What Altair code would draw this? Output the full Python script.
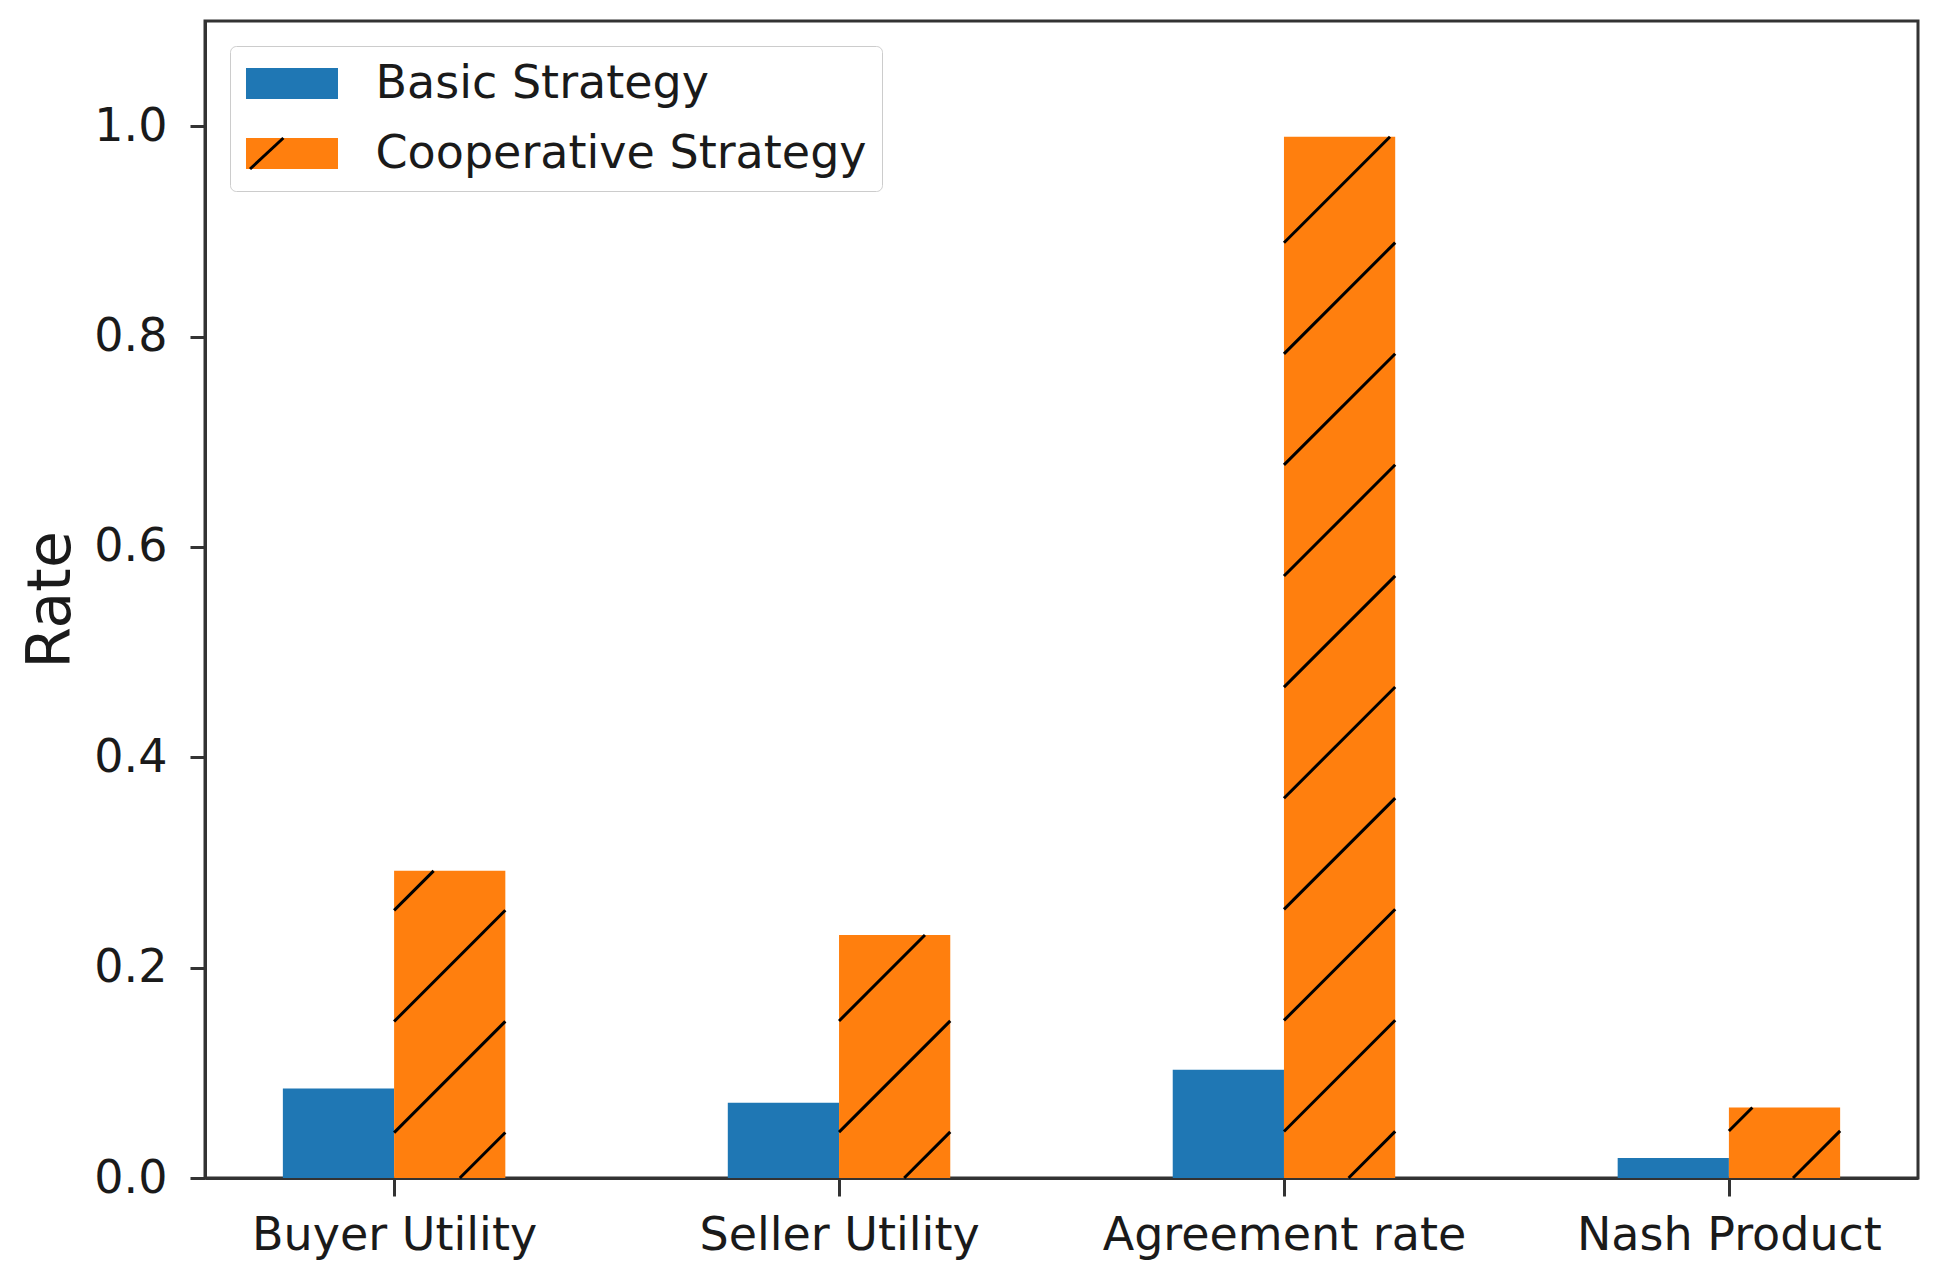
import json
import altair as alt
import numpy as np
import pandas as pd

# ---- data ----
categories = ["Buyer Utility", "Seller Utility", "Agreement rate", "Nash Product"]
basic = [0.085, 0.0715, 0.103, 0.019]
cooperative = [0.292, 0.231, 0.99, 0.067]
series = ["Basic Strategy", "Cooperative Strategy"]
colors = ["#1f77b4", "#ff7f0e"]
y_ticks = [0.0, 0.2, 0.4, 0.6, 0.8, 1.0]
x_ticks = [0, 1, 2, 3]

# ---- layout / style constants ----
BAR_W = 0.25
X_DOMAIN = [-0.425, 3.425]
Y_DOMAIN = [0.0, 1.1]
W, H = 1713, 1157
FONT = "DejaVu Sans"
TXT = "#1a1a1a"
FRAME = "#333333"
HATCH_W = 3

# bar table
rows = []
for i, c in enumerate(categories):
    for s, vals in enumerate([basic, cooperative]):
        rows.append(dict(metric=c, idx=i, sidx=s, strategy=series[s], value=vals[i]))
bars_df = pd.DataFrame(rows)

# hatch segments ("/" pattern, screen anchored) clipped to the cooperative bars
sx = W / (X_DOMAIN[1] - X_DOMAIN[0])
sy = H / (Y_DOMAIN[1] - Y_DOMAIN[0])
P, C0 = 111.1, 78.6


def xpix(xd):
    return (xd - X_DOMAIN[0]) * sx


def ypix(yd):
    return H - (yd - Y_DOMAIN[0]) * sy


def xdat(xp):
    return xp / sx + X_DOMAIN[0]


def ydat(yp):
    return (H - yp) / sy + Y_DOMAIN[0]


segs = []
for i, v in enumerate(cooperative):
    xa, xb = xpix(i), xpix(i + BAR_W)
    ytop, ybot = ypix(v), ypix(0)
    k0 = int(np.ceil((xa + ytop - C0) / P))
    k1 = int(np.floor((xb + ybot - C0) / P))
    for k in range(k0, k1 + 1):
        c = C0 + k * P
        x_lo = max(xa, c - ybot)
        x_hi = min(xb, c - ytop)
        if x_hi - x_lo < 0.5:
            continue
        segs.append(dict(strategy=series[1], x=xdat(x_lo), x2=xdat(x_hi),
                         y=ydat(c - x_lo), y2=ydat(c - x_hi)))
hatch_df = pd.DataFrame(segs)

label_expr = json.dumps(categories) + "[datum.value]"

S = 46
PAD = 14.5
ROWPAD = 24
rect_path = "M-0.935,-0.674H3.065V0.674H-0.935Z"
line_path = "M-0.76,0.674L0.69,-0.674"

x_scale = alt.Scale(domain=X_DOMAIN, nice=False, zero=False)
y_scale = alt.Scale(domain=Y_DOMAIN, nice=False, zero=False)
x_axis = alt.Axis(values=x_ticks, labelExpr=label_expr, title=None,
                  tickSize=18, labelPadding=17, labelFlush=False, labelLimit=0,
                  labelOverlap=False, labelAngle=0)
y_axis = alt.Axis(values=y_ticks, format=".1f", title="Rate", labelLimit=0,
                  tickSize=15, labelPadding=23, titlePadding=11)

bars = alt.Chart(bars_df).transform_calculate(
    x0=f"datum.idx + (datum.sidx - 1) * {BAR_W}",
    x1=f"datum.idx + datum.sidx * {BAR_W}",
).mark_bar().encode(
    x=alt.X("x0:Q", scale=x_scale, axis=x_axis),
    x2="x1:Q",
    y=alt.Y("value:Q", scale=y_scale, axis=y_axis),
    y2=alt.datum(0),
    color=alt.Color("strategy:N", scale=alt.Scale(domain=series, range=colors),
                    legend=alt.Legend(title=None, orient="none", legendX=25, legendY=25,
                                      symbolType=rect_path, symbolSize=S * S,
                                      symbolStrokeWidth=0, symbolOpacity=1,
                                      padding=PAD, rowPadding=ROWPAD, labelOffset=85,
                                      labelFont=FONT, labelFontSize=46, labelColor=TXT,
                                      labelLimit=1000, strokeColor="#cccccc",
                                      fillColor="white", cornerRadius=6)),
)

hatch = alt.Chart(hatch_df).mark_rule(strokeWidth=HATCH_W).encode(
    x=alt.X("x:Q", scale=x_scale, axis=x_axis),
    x2="x2:Q",
    y=alt.Y("y:Q", scale=y_scale, axis=y_axis),
    y2="y2:Q",
    stroke=alt.Stroke("strategy:N",
                      scale=alt.Scale(domain=[series[1]], range=["black"]),
                      legend=alt.Legend(title=None, orient="none",
                                        legendX=25 + PAD + S / 2 - (S + HATCH_W) / 2,
                                        legendY=25 + PAD + S + ROWPAD + S / 2 - (S + HATCH_W) / 2,
                                        symbolType=line_path, symbolSize=S * S,
                                        symbolStrokeWidth=HATCH_W, padding=0,
                                        labelExpr="''", labelFontSize=1)),
)

chart = alt.layer(bars, hatch).properties(
    width=W, height=H,
    padding={"left": 197, "top": 13, "right": 15, "bottom": 100},
    autosize=alt.AutoSizeParams(type="none"),
).configure_view(
    stroke=FRAME, strokeWidth=3
).configure_axis(
    grid=False, domainColor=FRAME, domainWidth=3, tickColor=FRAME, tickWidth=3,
    labelFont=FONT, labelFontSize=46, labelColor=TXT,
    titleFont=FONT, titleFontSize=60, titleFontWeight="normal", titleColor=TXT,
)

chart.save("out.html", embed_options={"renderer": "svg", "actions": False})
